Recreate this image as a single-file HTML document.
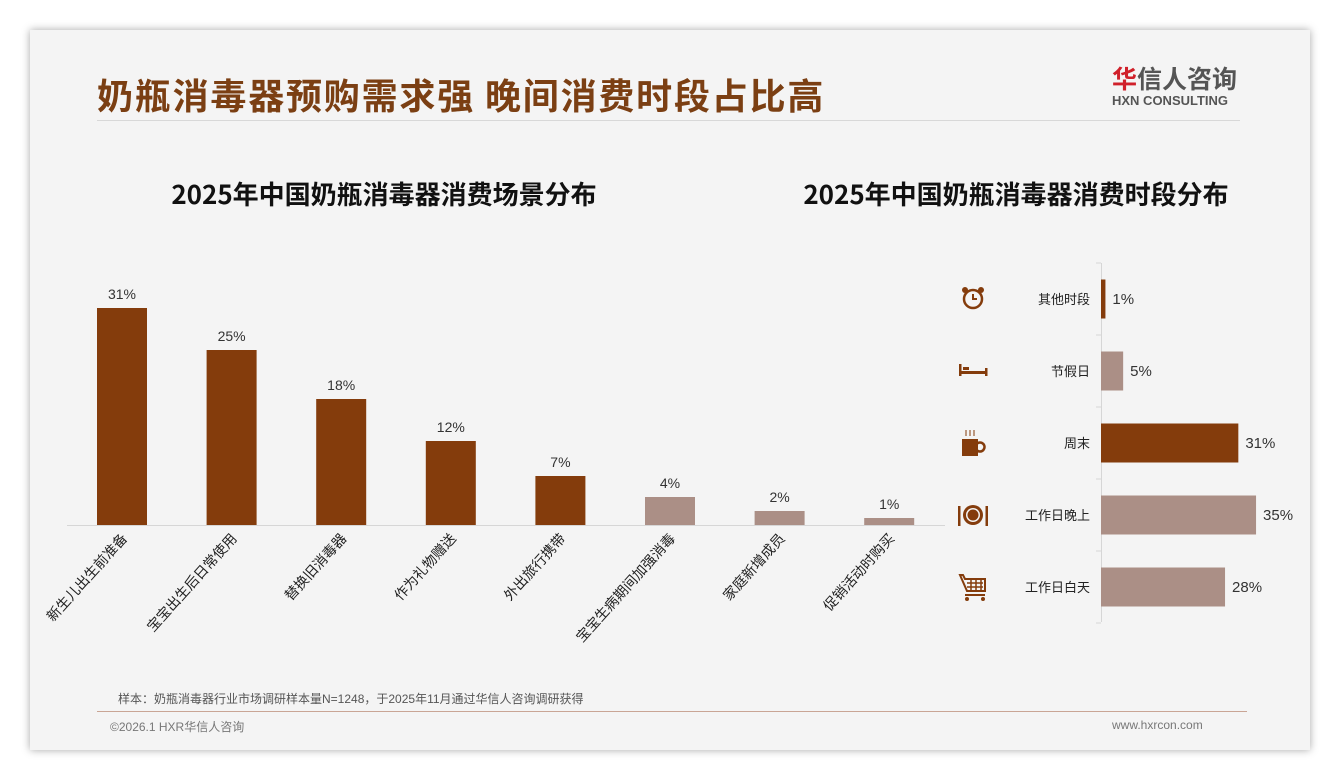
<!DOCTYPE html>
<html><head><meta charset="utf-8">
<style>
body{margin:0;width:1340px;height:780px;background:#fff;font-family:"Liberation Sans","Noto Sans CJK SC",sans-serif;overflow:hidden}
#card{position:absolute;left:30px;top:30px;width:1280px;height:720px;background:#f4f4f4;box-shadow:0 0 8px rgba(0,0,0,.35)}
.abs{position:absolute}
</style></head><body>
<div id="card"></div>
<div class="abs" style="left:97px;top:68px;font-size:36px;font-weight:bold;color:#7b3f13;font-family:'Noto Sans CJK SC',sans-serif;letter-spacing:1.8px;white-space:nowrap">奶瓶消毒器预购需求强 晚间消费时段占比高</div>
<div class="abs" style="left:97px;top:120px;width:1143px;height:1px;background:#d8d8d8"></div>
<div class="abs" style="left:1112px;top:62px;width:128px">
 <div style="font-size:25px;font-weight:bold;color:#555;font-family:'Noto Sans CJK SC',sans-serif;line-height:32px"><span style="color:#d0202a">华</span>信人咨询</div>
 <div style="font-size:13px;font-weight:bold;color:#555;line-height:14px">HXN CONSULTING</div>
</div>
<div class="abs" style="left:134px;width:500px;top:175px;text-align:center;font-size:26px;font-weight:bold;color:#111;font-family:'Noto Sans CJK SC',sans-serif;white-space:nowrap">2025年中国奶瓶消毒器消费场景分布</div>
<div class="abs" style="left:766px;width:500px;top:175px;text-align:center;font-size:26px;font-weight:bold;color:#111;font-family:'Noto Sans CJK SC',sans-serif;white-space:nowrap">2025年中国奶瓶消毒器消费时段分布</div>
<svg class="abs" style="left:0;top:0" width="1340" height="780" id="chart"></svg>
<div class="abs" style="left:118px;top:690px;font-size:12px;color:#555">样本：奶瓶消毒器行业市场调研样本量N=1248，于2025年11月通过华信人咨询调研获得</div>
<div class="abs" style="left:97px;top:711px;width:1150px;height:1px;background:#c9a595"></div>
<div class="abs" style="left:110px;top:718px;font-size:12px;color:#777">©2026.1 HXR华信人咨询</div>
<div class="abs" style="left:1112px;top:718px;font-size:12px;color:#777">www.hxrcon.com</div>
<script>
const sceneCats=["新生儿出生前准备","宝宝出生后日常使用","替换旧消毒器","作为礼物赠送","外出旅行携带","宝宝生病期间加强消毒","家庭新增成员","促销活动时购买"];
const sceneVals=[31,25,18,12,7,4,2,1];
const sceneHighlight=[1,1,1,1,1,0,0,0];
const timeCats=["其他时段","节假日","周末","工作日晚上","工作日白天"];
const timeVals=[1,5,31,35,28];
const timeHighlight=[1,0,1,0,0];
const DARK="#843c0c",LIGHT="#ab8f86";
const svg=document.getElementById('chart');const NS="http://www.w3.org/2000/svg";
function mk(t,a,txt){const e=document.createElementNS(NS,t);for(const k in a)e.setAttribute(k,a[k]);if(txt!==undefined)e.textContent=txt;svg.appendChild(e);return e;}
const base=525,step=109.6,x0=122,yScale=v=>base-v*7,xC=i=>x0+i*step;
let ax=mk('line',{x1:67,x2:945,y1:base+0.5,y2:base+0.5,stroke:'#d6d6d6'});

sceneVals.forEach((v,i)=>{
 const r=mk('rect',{x:xC(i)-25,y:yScale(v),width:50,height:base-yScale(v),fill:sceneHighlight[i]?DARK:LIGHT});
 
 
 const t=mk('text',{x:xC(i),y:yScale(v)-9,'text-anchor':'middle','font-size':14,fill:'#333'},v+'%');
 
 
 const l=mk('text',{x:0,y:0,'text-anchor':'end','font-size':14,fill:'#222',transform:`translate(${xC(i)+6},${base+14}) rotate(-48)`},sceneCats[i]);
 
 
});
const axX=1101,rowY=i=>299+i*72,xs=v=>v*4.43;
let ay=mk('line',{x1:axX+0.5,x2:axX+0.5,y1:263,y2:622,stroke:'#d6d6d6'});

for(let i=0;i<=5;i++){mk('line',{x1:axX-5,x2:axX,y1:263+i*72,y2:263+i*72,stroke:'#d6d6d6'});}
timeVals.forEach((v,i)=>{
 const r=mk('rect',{x:axX,y:rowY(i)-19.5,width:xs(v),height:39,fill:timeHighlight[i]?DARK:LIGHT});
 
 
 const t=mk('text',{x:axX+xs(v)+7,y:rowY(i)+5,'font-size':15,fill:'#333'},v+'%');
 
 
 const l=mk('text',{x:1090,y:rowY(i)+5,'text-anchor':'end','font-size':13,fill:'#222'},timeCats[i]);
 
 
});
function g(i){const e=document.createElementNS(NS,'g');e.setAttribute('transform',`translate(973,${rowY(i)})`);e.setAttribute('fill',DARK);e.setAttribute('stroke',DARK);svg.appendChild(e);
 return e;}
let e;
e=g(0);e.innerHTML='<circle r="9" fill="none" stroke-width="2.5"/><path d="M0-5V0H4" fill="none" stroke-width="2"/><circle cx="-8" cy="-9" r="3" stroke="none"/><circle cx="8" cy="-9" r="3" stroke="none"/>';
e=g(1);e.innerHTML='<rect x="-14" y="-7" width="2.5" height="12" stroke="none"/><rect x="12" y="-3" width="2.5" height="8" stroke="none"/><rect x="-14" y="0" width="28" height="3" stroke="none"/><rect x="-10" y="-4" width="6" height="3" stroke="none"/>';
e=g(2);e.innerHTML='<rect x="-11" y="-4" width="16" height="17" stroke="none"/><circle cx="7" cy="4" r="4.5" fill="none" stroke-width="2.5"/><path d="M-7-7v-6M-3-7v-6M1-7v-6" stroke-width="1"/>';
e=g(3);e.innerHTML='<circle r="10" stroke="none"/><circle r="7" fill="#f4f4f4" stroke="none"/><circle r="5.5" stroke="none"/><rect x="-15" y="-9" width="2.5" height="20" stroke="none"/><rect x="12.5" y="-9" width="2.5" height="20" stroke="none"/>';
e=g(4);e.innerHTML='<path d="M-13-12h3l2 4h20v12h-18z" fill="none" stroke-width="2"/><path d="M-6-4h16M-6 0h16M-2-8v12M3-8v12M8-8v12" stroke-width="1.5"/><path d="M-8 8h20" stroke-width="2"/><circle cx="-6" cy="12" r="2" stroke="none"/><circle cx="10" cy="12" r="2" stroke="none"/>';
</script>
</body></html>
